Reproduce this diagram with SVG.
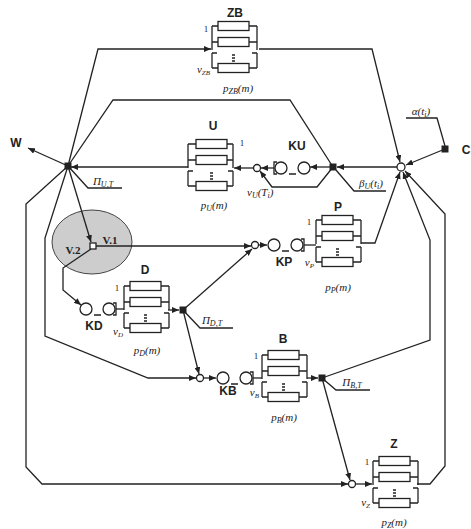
<svg xmlns="http://www.w3.org/2000/svg" xmlns:xlink="http://www.w3.org/1999/xlink" width="471" height="529" viewBox="0 0 471 529">
<style>
.ln{fill:none;stroke:#222;stroke-width:1.3}
.bx rect{fill:#fff;stroke:#222;stroke-width:1.3}
.bx path{fill:none;stroke:#222;stroke-width:1.3}
.ar{marker-end:url(#ah)}
.jn{fill:#222;stroke:#222}
.oc{fill:#fff;stroke:#222;stroke-width:1.3}
.t{font-family:"Liberation Sans",Arial,sans-serif;font-weight:bold;font-size:12px;text-anchor:middle;fill:#222}
.i{font-family:"Liberation Serif","Times New Roman",serif;font-style:italic;font-size:11px;fill:#222}
.s{font-family:"Liberation Serif","Times New Roman",serif;font-size:9px;fill:#222}
.v{font-family:"Liberation Serif","Times New Roman",serif;font-weight:bold;font-size:11px;text-anchor:middle;fill:#222}
.m{text-anchor:middle}
.e{text-anchor:end}
</style>
<defs>
<marker id="ah" markerUnits="userSpaceOnUse" markerWidth="8" markerHeight="6" refX="7" refY="3" orient="auto">
<path d="M0,0L7,3L0,6z" fill="#222"/>
</marker>
<g id="blk" class="bx">
<path d="M0,-23V1M0,4V19M0,4H5M45,-23V1M45,4V19M45,4H40M0,-23H6M0,-7H6M0,19H6M37,-23H45M37,-7H45M37,19H45M20,6H23M20,9H23M20,12H23"/>
<rect x="6" y="-27.5" width="31" height="9"/>
<rect x="6" y="-11.5" width="31" height="9"/>
<rect x="6" y="14.5" width="31" height="9"/>
</g>
<g id="sw" class="bx">
<circle cx="0" cy="0" r="6" fill="#fff" stroke="#222" stroke-width="1.3"/>
<circle cx="23" cy="0" r="6" fill="#fff" stroke="#222" stroke-width="1.3"/>
<path d="M8,6H15M27,-6H30V6H27"/>
</g>
</defs>

<g id="V-area">
<ellipse cx="92" cy="242" rx="40" ry="32" fill="#cdcdcd" stroke="#444" stroke-width="1"/>
</g>

<g id="connectors" class="ln">
<path class="ar" d="M68,166L98,49H211"/>
<path d="M68,166L113,100H290L333,167"/>
<path class="ar" d="M188,167H71"/>
<path class="ar" d="M68,166L28,148"/>
<path d="M68,166L88,188H122"/>
<path class="ar" d="M68,166L91,242"/>
<path class="ar" d="M68,166L45,238V336L148,378H196"/>
<path class="ar" d="M68,166L26,204V467L42,484H348"/>
<path class="ar" d="M96,246H251"/>
<path class="ar" d="M91,249L63,268V290L81,305"/>
<path class="ar" d="M259,49H372L400,162"/>
<path class="ar" d="M445,149L406,165"/>
<path d="M406,118H437L445,146"/>
<path class="ar" d="M397,167H337"/>
<path class="ar" d="M361,243H375L400,172"/>
<path class="ar" d="M417,484H430L445,466V214L405,171"/>
<path class="ar" d="M322,378L430,340V240L403,172"/>
<path class="ar" d="M330,167H310"/>
<path class="ar" d="M333,167L317,187H272L260,171"/>
<path d="M336,170L354,191H386"/>
<path class="ar" d="M274,168H261"/>
<path class="ar" d="M253.5,168H234"/>
<path class="ar" d="M258.5,245H267"/>
<path d="M304,245H316"/>
<path class="ar" d="M168,310H179"/>
<path class="ar" d="M183,310L252,249"/>
<path class="ar" d="M183,310L199,374"/>
<path d="M183,310L200,328H233"/>
<path d="M116,309H124"/>
<path class="ar" d="M203.5,378H216"/>
<path d="M253,378H262"/>
<path class="ar" d="M307,378H318"/>
<path class="ar" d="M322,378L350,480"/>
<path d="M322,378L336,390H370"/>
<path class="ar" d="M355.5,484H372"/>
</g>

<g id="hubL"><rect class="jn" x="65" y="163" width="6" height="6"/></g>
<g id="hubR"><circle class="oc" cx="401" cy="167" r="4"/></g>
<g id="W"><text class="t" x="16" y="147">W</text></g>
<g id="C"><rect class="jn" x="442" y="146" width="6" height="6"/><text class="t" x="466" y="154">C</text><text class="i m" x="421" y="115">α(t<tspan font-size="8" dy="2">i</tspan><tspan dy="-2">)</tspan></text></g>
<g id="labelU"><text class="i m" x="103" y="185">Π<tspan font-size="8" dy="2">U,T</tspan></text></g>

<g id="V">
<rect x="90" y="243" width="6" height="6" fill="#fff" stroke="#222" stroke-width="1.3"/>
<text class="v" x="110" y="244">V.1</text>
<text class="v" x="73" y="254">V.2</text>
</g>

<g id="ZB">
<use xlink:href="#blk" transform="translate(212,49)"/>
<text class="t" x="235" y="17">ZB</text>
<text class="s" x="206" y="32" text-anchor="middle">1</text>
<text class="i e" x="210" y="73">v<tspan font-size="7" dy="2">ZB</tspan></text>
<text class="i m" x="238" y="92">p<tspan font-size="8" dy="2">ZB</tspan><tspan dy="-2">(m)</tspan></text>
</g>

<g id="U">
<use xlink:href="#blk" transform="translate(233,167) scale(-1,1)"/>
<text class="t" x="213" y="130">U</text>
<text class="s" x="242" y="146" text-anchor="middle">1</text>
<text class="i" x="247" y="196">v<tspan font-size="8" dy="2">U</tspan><tspan dy="-2">(T</tspan><tspan font-size="8" dy="2">i</tspan><tspan dy="-2">)</tspan></text>
<text class="i m" x="214" y="209">p<tspan font-size="8" dy="2">U</tspan><tspan dy="-2">(m)</tspan></text>
</g>
<g id="KU">
<use xlink:href="#sw" transform="translate(304,168) scale(-1,1)"/>
<rect class="jn" x="330" y="164" width="6" height="6"/>
<text class="t" x="297" y="150">KU</text>
<text class="i m" x="371" y="187">β<tspan font-size="8" dy="2">U</tspan><tspan dy="-2">(t</tspan><tspan font-size="8" dy="2">i</tspan><tspan dy="-2">)</tspan></text>
<circle class="oc" cx="257" cy="168" r="3.5"/>
</g>

<g id="P">
<use xlink:href="#blk" transform="translate(316,243)"/>
<text class="t" x="338" y="211">P</text>
<text class="s" x="309" y="225" text-anchor="middle">1</text>
<text class="i e" x="314" y="266">v<tspan font-size="7" dy="2">P</tspan></text>
<text class="i m" x="338" y="291">p<tspan font-size="8" dy="2">P</tspan><tspan dy="-2">(m)</tspan></text>
</g>
<g id="KP">
<circle class="oc" cx="255" cy="245" r="3.5"/>
<use xlink:href="#sw" transform="translate(274,245)"/>
<text class="t" x="284" y="266">KP</text>
</g>

<g id="D">
<use xlink:href="#blk" transform="translate(124,309)"/>
<text class="t" x="145" y="274">D</text>
<text class="s" x="117" y="291" text-anchor="middle">1</text>
<text class="i e" x="123" y="335">v<tspan font-size="7" dy="2">D</tspan></text>
<text class="i m" x="147" y="354">p<tspan font-size="8" dy="2">D</tspan><tspan dy="-2">(m)</tspan></text>
<rect class="jn" x="180" y="307" width="6" height="6"/>
<text class="i m" x="212" y="324">Π<tspan font-size="8" dy="2">D,T</tspan></text>
</g>
<g id="KD">
<use xlink:href="#sw" transform="translate(86,309)"/>
<text class="t" x="94" y="330">KD</text>
</g>

<g id="B">
<use xlink:href="#blk" transform="translate(262,378)"/>
<text class="t" x="283" y="343">B</text>
<text class="s" x="256" y="359" text-anchor="middle">1</text>
<text class="i e" x="259" y="396">v<tspan font-size="7" dy="2">B</tspan></text>
<text class="i m" x="284" y="421">p<tspan font-size="8" dy="2">B</tspan><tspan dy="-2">(m)</tspan></text>
<rect class="jn" x="319" y="375" width="6" height="6"/>
<text class="i m" x="352" y="386">Π<tspan font-size="8" dy="2">B,T</tspan></text>
</g>
<g id="KB">
<circle class="oc" cx="200" cy="378" r="3.5"/>
<use xlink:href="#sw" transform="translate(223,378)"/>
<text class="t" x="228" y="395">KB</text>
</g>

<g id="Z">
<circle class="oc" cx="352" cy="484" r="3.5"/>
<use xlink:href="#blk" transform="translate(373,484)"/>
<text class="t" x="394" y="448">Z</text>
<text class="s" x="367" y="465" text-anchor="middle">1</text>
<text class="i e" x="370" y="506">v<tspan font-size="7" dy="2">Z</tspan></text>
<text class="i m" x="394" y="526">p<tspan font-size="8" dy="2">Z</tspan><tspan dy="-2">(m)</tspan></text>
</g>
</svg>
